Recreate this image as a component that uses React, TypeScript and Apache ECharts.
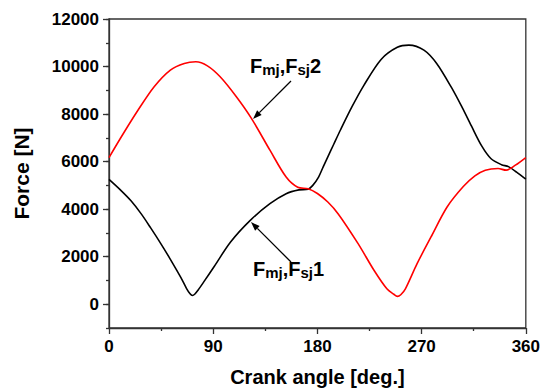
import React, { useEffect, useRef } from 'react';
import * as echarts from 'echarts';

// Crank angle [deg.] and force [N]
const blackAngle = [0, 10, 19, 28, 36, 45, 53, 62, 67, 70, 72, 74, 77, 82, 91, 105, 122, 139, 153, 164, 172, 176, 181, 185, 189, 194, 200, 210, 220, 235, 249, 259, 272, 283, 296, 305, 313, 322, 330, 339, 345, 352, 360];
const blackForce = [5250, 4800, 4350, 3790, 3210, 2530, 1890, 1130, 660, 440, 370, 420, 600, 950, 1600, 2620, 3530, 4230, 4650, 4810, 4840, 5000, 5350, 5780, 6200, 6720, 7340, 8320, 9200, 10300, 10810, 10900, 10690, 10130, 9100, 8280, 7500, 6650, 6120, 5870, 5790, 5560, 5260];

const redAngle = [0, 12, 25, 39, 53, 65, 75, 85, 96, 110, 123, 139, 153, 163, 172, 180, 189, 198, 215, 229, 240, 246, 249, 252, 256, 266, 278, 292, 306, 316, 325, 336, 343, 351, 360];
const redForce = [6170, 7150, 8160, 9150, 9850, 10130, 10200, 10030, 9570, 8730, 7820, 6480, 5350, 4920, 4860, 4660, 4300, 3800, 2560, 1420, 650, 420, 330, 400, 650, 1700, 2820, 4090, 4950, 5400, 5640, 5710, 5640, 5850, 6170];

const yMajorTicks = [0, 2000, 4000, 6000, 8000, 10000, 12000];
const xTitle = 'Crank angle [deg.]';
const yTitle = 'Force [N]';
const label1Parts = ['F', 'mj', ',F', 'sj', '1'];
const label2Parts = ['F', 'mj', ',F', 'sj', '2'];

const FONT = 'Arial, "Liberation Sans", sans-serif';

function arrow(x1: number, y1: number, x2: number, y2: number): any[] {
  const dx = x2 - x1;
  const dy = y2 - y1;
  const len = Math.sqrt(dx * dx + dy * dy);
  const ux = dx / len;
  const uy = dy / len;
  const hl = 9;
  const hw = 3.2;
  const bx = x2 - ux * hl;
  const by = y2 - uy * hl;
  const nx = -uy;
  const ny = ux;
  return [
    {
      type: 'line',
      shape: { x1, y1, x2: bx, y2: by },
      style: { stroke: '#000', lineWidth: 1.3 },
    },
    {
      type: 'polygon',
      shape: {
        points: [
          [x2, y2],
          [bx + nx * hw, by + ny * hw],
          [bx - nx * hw, by - ny * hw],
        ],
      },
      style: { fill: '#000' },
    },
  ];
}

function labelText(parts: string[]): string {
  return `{b|${parts[0]}}{s|${parts[1]}}{b|${parts[2]}}{s|${parts[3]}}{b|${parts[4]}}`;
}

const rich = {
  b: { fontSize: 20, fontWeight: 'bold', fontFamily: FONT, color: '#000', lineHeight: 22 },
  s: { fontSize: 15, fontWeight: 'bold', fontFamily: FONT, color: '#000', lineHeight: 22, verticalAlign: 'bottom' },
};

export default function App() {
  const ref = useRef<HTMLDivElement>(null);

  useEffect(() => {
    if (!ref.current) return;
    const chart = echarts.init(ref.current, null, { renderer: 'svg' });
    const black = blackAngle.map((a, i) => [a, blackForce[i]]);
    const red = redAngle.map((a, i) => [a, redForce[i]]);

    chart.setOption({
      animation: false,
      backgroundColor: '#fff',
      grid: {
        left: 109,
        top: 19,
        right: 14,
        bottom: 64,
        show: true,
        borderColor: '#333',
        borderWidth: 1.3,
        backgroundColor: 'transparent',
      },
      xAxis: {
        type: 'value',
        min: 0,
        max: 360,
        interval: 90,
        name: xTitle,
        nameLocation: 'middle',
        nameGap: 39,
        nameTextStyle: { fontSize: 20, fontWeight: 'bold', fontFamily: FONT, color: '#000' },
        axisLine: { show: true, onZero: false, lineStyle: { color: '#333', width: 1.3 } },
        axisTick: { show: true, length: 6, lineStyle: { color: '#333', width: 1.3 } },
        minorTick: { show: true, splitNumber: 2, length: 3, lineStyle: { color: '#333', width: 1.3 } },
        splitLine: { show: false },
        axisLabel: { fontSize: 17, fontWeight: 'bold', fontFamily: FONT, color: '#000', margin: 10 },
      },
      yAxis: [
        {
          type: 'value',
          min: -1000,
          max: 12000,
          interval: 1000,
          name: yTitle,
          nameLocation: 'middle',
          nameGap: 77,
          nameTextStyle: { fontSize: 21, fontWeight: 'bold', fontFamily: FONT, color: '#000' },
          axisLine: { show: true, onZero: false, lineStyle: { color: '#333', width: 1.3 } },
          axisTick: { show: true, length: 3, lineStyle: { color: '#333', width: 1.3 } },
          splitLine: { show: false },
          axisLabel: {
            fontSize: 17,
            fontWeight: 'bold',
            fontFamily: FONT,
            color: '#000',
            margin: 10,
            formatter: (v: number) => (yMajorTicks.indexOf(v) >= 0 ? String(v) : ''),
          },
        },
        {
          type: 'value',
          min: -1000,
          max: 12000,
          position: 'left',
          axisLine: { show: false },
          axisTick: { show: true, length: 6, customValues: yMajorTicks, lineStyle: { color: '#333', width: 1.3 } },
          axisLabel: { show: false },
          splitLine: { show: false },
        },
      ],
      series: [
        {
          type: 'line',
          data: black,
          showSymbol: false,
          smooth: 0.3,
          lineStyle: { color: '#000', width: 1.6 },
          itemStyle: { color: '#000' },
        },
        {
          type: 'line',
          data: red,
          showSymbol: false,
          smooth: 0.3,
          lineStyle: { color: '#ff0000', width: 1.6 },
          itemStyle: { color: '#ff0000' },
        },
      ],
      graphic: [
        {
          type: 'text',
          left: 250,
          top: 56,
          style: { text: labelText(label2Parts), rich },
        },
        {
          type: 'text',
          left: 253,
          top: 259,
          style: { text: labelText(label1Parts), rich },
        },
        ...arrow(291, 81, 253, 119),
        ...arrow(291, 262, 251, 222),
      ],
    });

    return () => chart.dispose();
  }, []);

  return <div ref={ref} style={{ width: 543, height: 392, position: 'absolute', left: 0, top: 0 }} />;
}
